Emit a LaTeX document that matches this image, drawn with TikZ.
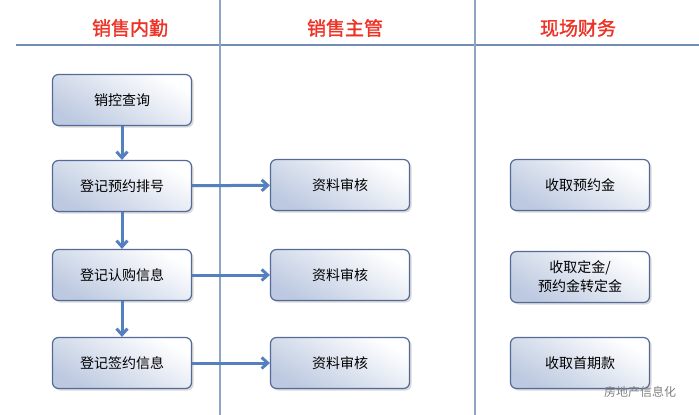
\documentclass[tikz,border=0pt]{standalone}
\usepackage{fontspec}
\newfontfamily\cjk{Noto Sans CJK SC}
\newfontfamily\cjkbold[FakeBold=1.5]{Noto Sans CJK SC}
\usetikzlibrary{positioning,shadows,arrows.meta}
\definecolor{lane}{rgb}{.45,.55,.7}
\definecolor{boxline}{rgb}{.33,.42,.6}
\definecolor{flow}{rgb}{.33,.5,.75}
\definecolor{head}{rgb}{.93,.2,.15}
\definecolor{boxfill}{rgb}{.74,.79,.88}
\tikzset{
  task/.style={draw=boxline, line width=1.2pt, rounded corners=6pt,
    minimum width=139pt, minimum height=51pt, align=center,
    top color=white, bottom color=boxfill, shading angle=-30,
    drop shadow={shadow xshift=2pt, shadow yshift=-2pt, opacity=.3},
    font=\cjk\fontsize{14pt}{19pt}\selectfont},
  lanehead/.style={text=head, font=\cjkbold\fontsize{19pt}{22pt}\selectfont},
  flowarrow/.style={-{Straight Barb[length=6pt,width=11pt]}, flow, line width=3pt},
}
\begin{document}
\begin{tikzpicture}[x=1pt,y=-1pt]
  \useasboundingbox (0,0) rectangle (699,415);

  % lanes
  \draw[lane, line width=1.2pt] (16,45) -- (699,45);
  \draw[lane!80, line width=1.2pt] (220,0) -- (220,415);
  \draw[lane!80, line width=1.2pt] (475,0) -- (475,415);
  \node[lanehead] at (130,28) {销售内勤};
  \node[lanehead] at (345,28) {销售主管};
  \node[lanehead] at (578,28) {现场财务};

  % tasks
  \node[task] (query) at (122,100) {销控查询};
  \node[task] (book) at (122,186) {登记预约排号};
  \node[task] (order) at (122,275) {登记认购信息};
  \node[task] (sign) at (122,363) {登记签约信息};
  \node[task] (check1) at (340,185) {资料审核};
  \node[task] (check2) at (340,275) {资料审核};
  \node[task] (check3) at (340,363) {资料审核};
  \node[task] (deposit) at (580,185) {收取预约金};
  \node[task] (down) at (580,277) {收取定金/\\预约金转定金};
  \node[task] (first) at (580,363) {收取首期款};

  % flow
  \draw[flowarrow] (query) -- (book);
  \draw[flowarrow] (book) -- (order);
  \draw[flowarrow] (order) -- (sign);
  \draw[flowarrow] (book) -- (check1);
  \draw[flowarrow] (order) -- (check2);
  \draw[flowarrow] (sign) -- (check3);

  % mark
  \node[text=gray, font=\cjk\fontsize{12pt}{14pt}\selectfont] at (640,392) {房地产信息化};
\end{tikzpicture}
\end{document}
